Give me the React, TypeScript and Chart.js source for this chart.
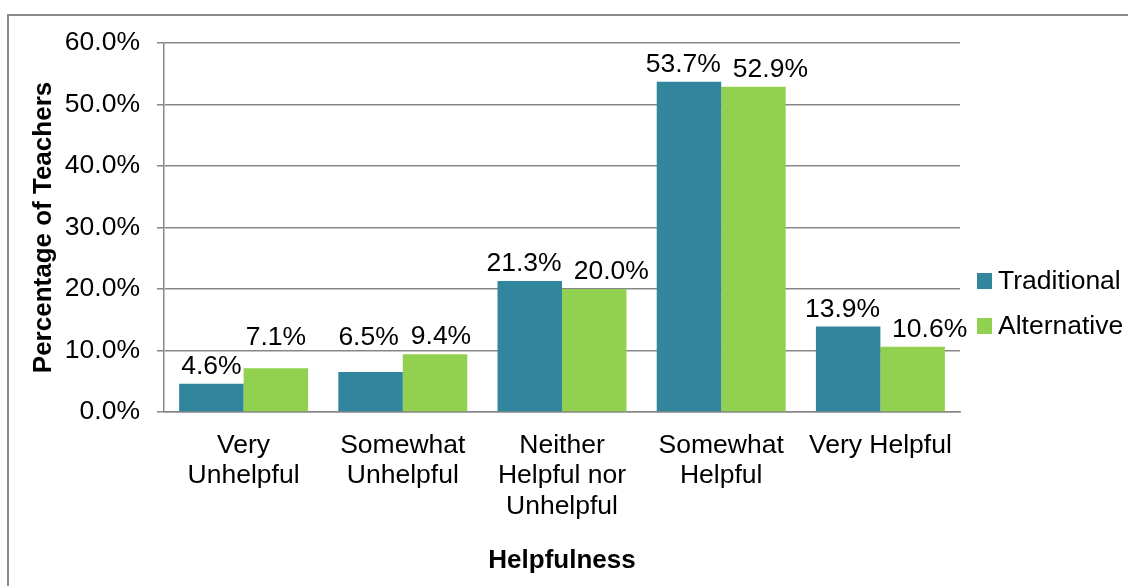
import React, { useEffect, useRef } from "react";
import { Chart, registerables } from "chart.js";

Chart.register(...registerables);

// Survey categories (x axis), shown on several lines
const categories: string[][] = [
  ["Very", "Unhelpful"],
  ["Somewhat", "Unhelpful"],
  ["Neither", "Helpful nor", "Unhelpful"],
  ["Somewhat", "Helpful"],
  ["Very Helpful"],
];

// Percentage of teachers per category
const traditional = [4.6, 6.5, 21.3, 53.7, 13.9];
const alternative = [7.1, 9.4, 20.0, 52.9, 10.6];

const seriesNames = ["Traditional", "Alternative"];
const seriesColors = ["#31859C", "#92D050"];

// y axis ticks: 0% to 60% in steps of 10
const yMin = 0;
const yMax = 60;
const yStep = 10;

const FONT = "'Liberation Sans', Arial, sans-serif";
const SIZE = 26.5;
const GRID = "#878787";

const fmt = (v: number) => v.toFixed(1) + "%";

// Value labels above each bar. A label is lifted clear of any gridline it
// would cross, and the two labels of a group are pushed apart if they collide.
const valueLabels = {
  id: "valueLabels",
  afterDatasetsDraw(chart: any) {
    const ctx = chart.ctx as CanvasRenderingContext2D;
    const yScale = chart.scales.y;
    const gridYs: number[] = yScale.ticks.map((t: any) => yScale.getPixelForValue(t.value));
    ctx.save();
    ctx.font = `${SIZE}px ${FONT}`;
    ctx.fillStyle = "#000";
    ctx.textAlign = "center";
    ctx.textBaseline = "alphabetic";
    const capH = SIZE * 0.716;
    const metas = chart.data.datasets.map((_: any, i: number) => chart.getDatasetMeta(i));
    const n = chart.data.labels.length;
    for (let j = 0; j < n; j++) {
      const items = metas.map((m: any, di: number) => {
        const el = m.data[j];
        const v = chart.data.datasets[di].data[j] as number;
        const text = fmt(v);
        const w = ctx.measureText(text).width;
        let y = el.y - 10;
        for (const g of gridYs) {
          if (g > y - capH - 1 && g < y + 4) y = g - 5.5;
        }
        return { x: el.x, y, w, text };
      });
      const a = items[0];
      const b = items[1];
      const closeV = Math.abs(a.y - b.y) < 25;
      const over = a.x + a.w / 2 + 12 - (b.x - b.w / 2);
      if (closeV && over > 0) {
        a.x -= over * 0.25;
        b.x += over * 0.75;
      }
      items.forEach((it: any) => ctx.fillText(it.text, it.x, it.y));
    }
    ctx.restore();
  },
};

// Legend to the right of the plot: colour square followed by series name
const sideLegend = {
  id: "sideLegend",
  afterDraw(chart: any) {
    const ctx = chart.ctx as CanvasRenderingContext2D;
    const area = chart.chartArea;
    ctx.save();
    ctx.font = `${SIZE}px ${FONT}`;
    ctx.textBaseline = "middle";
    ctx.textAlign = "left";
    const left = area.right + 17;
    const rowH = 45;
    const ds = chart.data.datasets;
    const top = (area.top + area.bottom) / 2 + 76 - (rowH * (ds.length - 1)) / 2;
    ds.forEach((d: any, i: number) => {
      const cy = top + i * rowH;
      ctx.fillStyle = d.backgroundColor;
      ctx.fillRect(left, cy - 8, 15, 16);
      ctx.fillStyle = "#000";
      ctx.fillText(d.label, left + 21, cy + 1);
    });
    ctx.restore();
  },
};

export default function App() {
  const ref = useRef<HTMLCanvasElement | null>(null);

  useEffect(() => {
    if (!ref.current) return;
    const chart = new Chart(ref.current, {
      type: "bar",
      data: {
        labels: categories as any,
        datasets: [
          { label: seriesNames[0], data: traditional, backgroundColor: seriesColors[0] },
          { label: seriesNames[1], data: alternative, backgroundColor: seriesColors[1] },
        ],
      },
      options: {
        responsive: false,
        animation: false,
        layout: { padding: { top: 43, right: 168, bottom: 0, left: 0 } },
        datasets: {
          bar: { categoryPercentage: 0.81, barPercentage: 1.0, borderWidth: 0 },
        },
        plugins: {
          legend: { display: false },
          tooltip: { enabled: false },
        },
        scales: {
          x: {
            grid: { display: false, drawTicks: false },
            border: { display: true, color: GRID, width: 1.5 },
            ticks: {
              color: "#000",
              padding: 18,
              maxRotation: 0,
              autoSkip: false,
              font: { family: FONT, size: SIZE, lineHeight: 1.16 },
            },
            title: {
              display: true,
              text: "Helpfulness",
              color: "#000",
              font: { family: FONT, size: 26, weight: "bold" },
              padding: { top: 0, bottom: 10 },
            },
            afterFit(scale: any) {
              scale.height = 174;
            },
          },
          y: {
            min: yMin,
            max: yMax,
            grid: { color: GRID, lineWidth: 1.5, tickLength: 7, drawTicks: true },
            border: { display: true, color: GRID, width: 1.5 },
            ticks: {
              stepSize: yStep,
              color: "#000",
              padding: 17,
              font: { family: FONT, size: SIZE },
              callback: (v: any) => Number(v).toFixed(1) + "%",
            },
            title: {
              display: true,
              text: "Percentage of Teachers",
              color: "#000",
              font: { family: FONT, size: 26, weight: "bold" },
              padding: { top: 28, bottom: 0 },
            },
            afterFit(scale: any) {
              scale.width = 164;
            },
          },
        },
      },
      plugins: [valueLabels, sideLegend],
    });
    return () => chart.destroy();
  }, []);

  return (
    <div
      style={{
        position: "absolute",
        left: 0,
        top: 0,
        width: 1128,
        height: 586,
        overflow: "hidden",
        background: "#fff",
      }}
    >
      <canvas ref={ref} width={1128} height={586} style={{ display: "block" }} />
      <div
        style={{
          position: "absolute",
          left: 7,
          top: 14,
          width: 2000,
          height: 2000,
          border: "2px solid #8a8a8a",
          pointerEvents: "none",
        }}
      />
    </div>
  );
}
